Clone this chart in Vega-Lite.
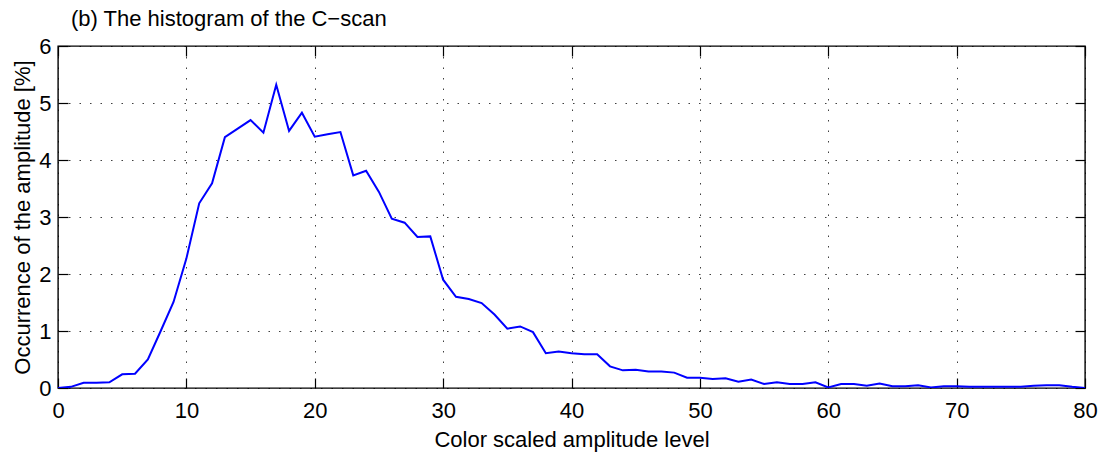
{
  "$schema": "https://vega.github.io/schema/vega-lite/v6.json",
  "autosize": {"type": "none"},
  "width": 1027,
  "height": 342,
  "padding": {"left": 58, "top": 46, "right": 21, "bottom": 64},
  "background": "white",
  "title": {
    "text": "(b) The histogram of the C−scan",
    "anchor": "start",
    "frame": "group",
    "font": "Liberation Sans",
    "fontSize": 22,
    "fontWeight": "normal",
    "color": "#000",
    "baseline": "bottom",
    "offset": 14,
    "dx": 13,
    "dy": 32
  },
  "data": {
    "values": [
      {"level": 0, "pct": 0.0}, {"level": 1, "pct": 0.02}, {"level": 2, "pct": 0.09}, {"level": 3, "pct": 0.09},
      {"level": 4, "pct": 0.10}, {"level": 5, "pct": 0.24}, {"level": 6, "pct": 0.25}, {"level": 7, "pct": 0.50},
      {"level": 8, "pct": 1.00}, {"level": 9, "pct": 1.51}, {"level": 10, "pct": 2.27}, {"level": 11, "pct": 3.24},
      {"level": 12, "pct": 3.59}, {"level": 13, "pct": 4.40}, {"level": 14, "pct": 4.55}, {"level": 15, "pct": 4.70},
      {"level": 16, "pct": 4.48}, {"level": 17, "pct": 5.32}, {"level": 18, "pct": 4.51}, {"level": 19, "pct": 4.83},
      {"level": 20, "pct": 4.41}, {"level": 21, "pct": 4.45}, {"level": 22, "pct": 4.49}, {"level": 23, "pct": 3.73},
      {"level": 24, "pct": 3.81}, {"level": 25, "pct": 3.44}, {"level": 26, "pct": 2.97}, {"level": 27, "pct": 2.90},
      {"level": 28, "pct": 2.65}, {"level": 29, "pct": 2.66}, {"level": 30, "pct": 1.90}, {"level": 31, "pct": 1.60},
      {"level": 32, "pct": 1.56}, {"level": 33, "pct": 1.49}, {"level": 34, "pct": 1.29}, {"level": 35, "pct": 1.04},
      {"level": 36, "pct": 1.08}, {"level": 37, "pct": 0.98}, {"level": 38, "pct": 0.61}, {"level": 39, "pct": 0.64},
      {"level": 40, "pct": 0.61}, {"level": 41, "pct": 0.59}, {"level": 42, "pct": 0.59}, {"level": 43, "pct": 0.38},
      {"level": 44, "pct": 0.31}, {"level": 45, "pct": 0.32}, {"level": 46, "pct": 0.29}, {"level": 47, "pct": 0.29},
      {"level": 48, "pct": 0.27}, {"level": 49, "pct": 0.18}, {"level": 50, "pct": 0.18}, {"level": 51, "pct": 0.16},
      {"level": 52, "pct": 0.17}, {"level": 53, "pct": 0.11}, {"level": 54, "pct": 0.15}, {"level": 55, "pct": 0.07},
      {"level": 56, "pct": 0.10}, {"level": 57, "pct": 0.07}, {"level": 58, "pct": 0.07}, {"level": 59, "pct": 0.10},
      {"level": 60, "pct": 0.01}, {"level": 61, "pct": 0.07}, {"level": 62, "pct": 0.07}, {"level": 63, "pct": 0.04},
      {"level": 64, "pct": 0.08}, {"level": 65, "pct": 0.03}, {"level": 66, "pct": 0.03}, {"level": 67, "pct": 0.05},
      {"level": 68, "pct": 0.01}, {"level": 69, "pct": 0.03}, {"level": 70, "pct": 0.03}, {"level": 71, "pct": 0.02},
      {"level": 72, "pct": 0.02}, {"level": 73, "pct": 0.02}, {"level": 74, "pct": 0.02}, {"level": 75, "pct": 0.02},
      {"level": 76, "pct": 0.04}, {"level": 77, "pct": 0.05}, {"level": 78, "pct": 0.05}, {"level": 79, "pct": 0.02},
      {"level": 80, "pct": 0.0}
    ]
  },
  "layer": [
    {
      "mark": {"type": "line", "color": "#0000ff", "strokeWidth": 2, "clip": true},
      "encoding": {
        "x": {
          "field": "level", "type": "quantitative",
          "scale": {"domain": [0, 80], "nice": false, "zero": false},
          "axis": {
            "orient": "bottom",
            "title": "Color scaled amplitude level",
            "values": [0, 10, 20, 30, 40, 50, 60, 70, 80],
            "grid": true,
            "tickSize": -10,
            "labelPadding": 39,
            "labelBaseline": "alphabetic",
            "labelFlush": false,
            "titleBaseline": "alphabetic",
            "titleY": 58
          }
        },
        "y": {
          "field": "pct", "type": "quantitative",
          "scale": {"domain": [0, 6], "nice": false},
          "axis": {
            "orient": "left",
            "title": "Occurrence of the amplitude [%]",
            "values": [0, 1, 2, 3, 4, 5, 6],
            "grid": true,
            "tickSize": -10,
            "labelPadding": 17,
            "labelBaseline": "middle",
            "labelFlush": false,
            "titleBaseline": "alphabetic",
            "titleX": -29
          }
        }
      }
    },
    {
      "mark": {"type": "point", "opacity": 0},
      "encoding": {
        "x": {
          "field": "level", "type": "quantitative",
          "axis": {
            "orient": "top", "title": null, "labels": false, "grid": false,
            "values": [0, 10, 20, 30, 40, 50, 60, 70, 80], "tickSize": -10
          }
        },
        "y": {
          "field": "pct", "type": "quantitative",
          "axis": {
            "orient": "right", "title": null, "labels": false, "grid": false,
            "values": [0, 1, 2, 3, 4, 5, 6], "tickSize": -10
          }
        }
      }
    }
  ],
  "resolve": {"axis": {"x": "independent", "y": "independent"}},
  "config": {
    "view": {"stroke": "#000", "strokeWidth": 1.4},
    "axis": {
      "domain": false,
      "ticks": true,
      "tickColor": "#000",
      "tickWidth": 1.2,
      "gridColor": "#000",
      "gridOpacity": 0.75,
      "gridWidth": 1,
      "gridDash": [1.5, 9],
      "labelFont": "Liberation Sans",
      "labelFontSize": 22,
      "labelColor": "#000",
      "titleFont": "Liberation Sans",
      "titleFontSize": 22,
      "titleFontWeight": "normal",
      "titleColor": "#000"
    }
  }
}
